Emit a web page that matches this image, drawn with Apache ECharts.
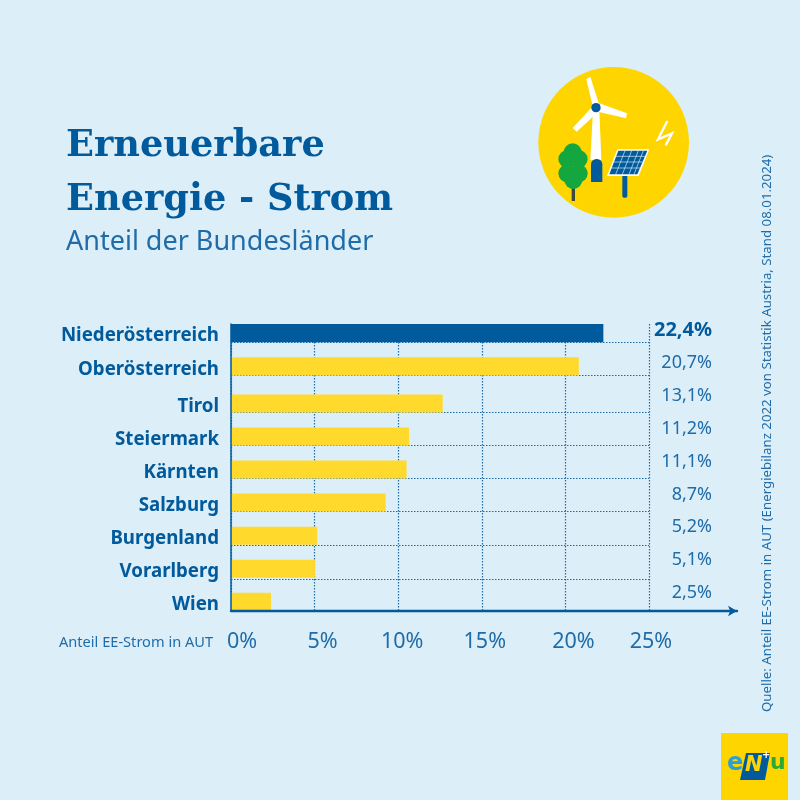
<!DOCTYPE html>
<html>
<head>
<meta charset="utf-8">
<script src="https://cdn.jsdelivr.net/npm/echarts@6/dist/echarts.min.js"></script>
<style>
html,body{margin:0;padding:0;background:#dceef8;}
#main{width:800px;height:800px;}
</style>
</head>
<body>
<div id="main"></div>
<script>
// values as drawn in the picture (bar lengths do not always agree with the printed labels)
var topStates = ['Niederösterreich', 'Oberösterreich'];
var topBars = [22.27, 20.8];
var otherStates = ['Tirol', 'Steiermark', 'Kärnten', 'Salzburg', 'Burgenland', 'Vorarlberg', 'Wien'];
var otherBars = [12.66, 10.65, 10.5, 9.25, 5.15, 5.02, 2.39];
var valueLabels = ['22,4%', '20,7%', '13,1%', '11,2%', '11,1%', '8,7%', '5,2%', '5,1%', '2,5%'];
var xTicks = [0, 5, 10, 15, 20, 25];

var BLUE = '#005a9c', MID = '#1f6ca8', YELLOW = '#ffd92b', SUN = '#ffd500', GREEN = '#14a63f';
var FONT = '"Noto Sans"';

// x labels sit a bit right of their ticks in the original
var xShift = {0: 11, 5: 8, 10: 4, 15: 3, 20: 8, 25: 2};
var xRich = {};
xTicks.forEach(function (t) {
    xRich['t' + t] = {fontFamily: FONT, fontSize: 21.5, color: MID, padding: [0, 0, 0, xShift[t] * 2]};
});

function hiddenX(idx) {
    return {gridIndex: idx, type: 'value', min: 0, max: 25, show: false};
}
function stateAxis(idx, names) {
    return {
        gridIndex: idx, type: 'category', inverse: true, data: names,
        axisLine: {show: false}, axisTick: {show: false},
        axisLabel: {
            margin: 12,
            formatter: function (v) { return '{n|' + v + '}'; },
            rich: {n: {padding: [6, 0, 0, 0], fontFamily: FONT, fontWeight: 'bold', fontSize: 18.7, color: BLUE}}
        }
    };
}
function leaf(cx, cy) {
    return {type: 'circle', shape: {cx: cx, cy: cy, r: 27}, style: {fill: GREEN}};
}
function panelLine(x1, y1, x2, y2) {
    return {type: 'line', shape: {x1: x1, y1: y1, x2: x2, y2: y2}, style: {stroke: '#dceef8', lineWidth: 2}};
}

var dotted = {color: MID, width: 1.2, type: [1.5, 1.5]};

var option = {
    backgroundColor: '#dceef8',
    animation: false,
    title: {
        left: 61, top: 114, itemGap: 2,
        text: 'Erneuerbare\nEnergie - Strom',
        textStyle: {fontFamily: '"DejaVu Serif"', fontWeight: 'bold', fontSize: 36.7, lineHeight: 54, color: BLUE},
        subtext: 'Anteil der Bundesländer',
        subtextStyle: {fontFamily: FONT, fontSize: 27, color: MID}
    },
    grid: [
        {left: 231, top: 324, width: 418, height: 287},     // gridlines
        {left: 231, top: 316.5, width: 418, height: 66.6},  // first two rows
        {left: 231, top: 387, width: 418, height: 231.2},   // remaining rows
        {left: 231, top: 324, width: 506, height: 287},     // axis lines with arrow
        {left: 716, top: 313.5, width: 10, height: 296}     // printed values
    ],
    xAxis: [
        {
            gridIndex: 0, type: 'value', min: 0, max: 25, interval: 5,
            axisLine: {show: false}, axisTick: {show: false},
            splitLine: {show: true, lineStyle: dotted},
            axisLabel: {
                margin: 20, showMinLabel: true, showMaxLabel: true, rich: xRich,
                formatter: function (v) { return '{t' + v + '|' + v + '%}'; }
            }
        },
        hiddenX(1),
        hiddenX(2),
        {
            gridIndex: 3, type: 'value', min: 0, max: 1, z: 6,
            axisLine: {show: true, symbol: ['none', 'arrow'], symbolSize: [8, 9], lineStyle: {color: BLUE, width: 2.4}},
            axisTick: {show: false}, axisLabel: {show: false}, splitLine: {show: false}
        },
        {gridIndex: 4, type: 'value', show: false}
    ],
    yAxis: [
        {
            gridIndex: 0, type: 'value', inverse: true, min: 0, max: 287,
            axisLine: {show: false}, axisLabel: {show: false},
            axisTick: {show: false, customValues: [18.3, 51.7, 88.7, 121.7, 154.3, 187.7, 221, 255]},
            splitLine: {show: true, lineStyle: dotted}
        },
        stateAxis(1, topStates),
        stateAxis(2, otherStates),
        {
            gridIndex: 3, type: 'value', min: 0, max: 1, z: 6,
            axisLine: {show: true, lineStyle: {color: BLUE, width: 1.5}},
            axisTick: {show: false}, axisLabel: {show: false}, splitLine: {show: false}
        },
        {
            gridIndex: 4, type: 'category', inverse: true, data: valueLabels,
            axisLine: {show: false}, axisTick: {show: false},
            axisLabel: {
                margin: 4,
                formatter: function (v, i) { return (i === 0 ? '{b|' : '{r|') + v + '}'; },
                rich: {
                    b: {fontFamily: FONT, fontWeight: 'bold', fontSize: 20, color: BLUE},
                    r: {fontFamily: FONT, fontSize: 18, color: MID}
                }
            }
        }
    ],
    series: [
        {
            type: 'bar', xAxisIndex: 1, yAxisIndex: 1, barWidth: 18.3, data: topBars,
            itemStyle: {color: function (p) { return p.dataIndex === 0 ? BLUE : YELLOW; }}
        },
        {type: 'bar', xAxisIndex: 2, yAxisIndex: 2, barWidth: 18, data: otherBars, itemStyle: {color: YELLOW}}
    ],
    graphic: [
        {type: 'text', x: 59, y: 635, style: {text: 'Anteil EE-Strom in AUT', fontFamily: FONT, fontSize: 14.6, fill: MID}},
        {
            type: 'text', x: 761, y: 712, rotation: Math.PI / 2,
            style: {text: 'Quelle: Anteil EE-Strom in AUT (Energiebilanz 2022 von Statistik Austria, Stand 08.01.2024)',
                fontFamily: FONT, fontSize: 13.25, fill: MID, align: 'left', verticalAlign: 'top'}
        },
        // icon, coordinates in the 3x crop space
        {
            type: 'group', x: 530, y: 60, scaleX: 1 / 3, scaleY: 1 / 3,
            children: [
                {type: 'circle', shape: {cx: 251, cy: 247, r: 226}, style: {fill: SUN}},
                {type: 'polygon', shape: {points: [[189, 150], [208, 150], [214, 300], [181, 300]]}, style: {fill: '#fff'}},
                {type: 'polygon', shape: {points: [[169, 58], [181, 50], [208, 135], [188, 138]]}, style: {fill: '#fff'}},
                {type: 'polygon', shape: {points: [[208, 130], [291, 160], [288, 175], [204, 155]]}, style: {fill: '#fff'}},
                {type: 'polygon', shape: {points: [[184, 143], [200, 160], [140, 215], [128, 204]]}, style: {fill: '#fff'}},
                {type: 'circle', shape: {cx: 198, cy: 143, r: 14}, style: {fill: BLUE}},
                {type: 'rect', shape: {x: 183, y: 297, width: 34, height: 69, r: [16, 16, 0, 0]}, style: {fill: BLUE}},
                {type: 'rect', shape: {x: 125, y: 380, width: 10, height: 43}, style: {fill: '#3f4a3c'}},
                leaf(128, 277), leaf(112, 297), leaf(146, 297), leaf(112, 340), leaf(146, 340), leaf(130, 360),
                {type: 'rect', shape: {x: 277, y: 345, width: 15, height: 68, r: 5}, style: {fill: BLUE}},
                {type: 'polygon', shape: {points: [[262, 268], [358, 268], [326, 348], [231, 348]]}, style: {fill: '#fff'}},
                {type: 'polygon', shape: {points: [[265, 272], [352, 272], [322, 343], [238, 343]]}, style: {fill: BLUE}},
                panelLine(256, 289, 345, 289), panelLine(247, 306, 338, 306), panelLine(240, 324, 330, 324),
                panelLine(285, 272, 257, 343), panelLine(305, 272, 277, 343), panelLine(325, 272, 297, 343), panelLine(340, 272, 312, 343),
                {type: 'polyline', shape: {points: [[412, 183], [384, 238], [426, 220], [407, 256]]},
                    style: {fill: 'none', stroke: '#fff', lineWidth: 7}},
                // logo, same crop scale
                {type: 'rect', shape: {x: 573, y: 2019, width: 201, height: 201}, style: {fill: SUN}}
            ]
        },
        {type: 'polygon', shape: {points: [[746, 753], [770, 753], [765, 780], [740, 780]]}, style: {fill: BLUE}},
        {type: 'text', x: 727, y: 752, style: {text: 'e', fontFamily: '"DejaVu Sans"', fontWeight: 'bold', fontSize: 24, fill: '#2a9fd8'}},
        {type: 'text', x: 745, y: 755, style: {text: 'N', fontFamily: '"DejaVu Sans"', fontWeight: 'bold', fontStyle: 'italic', fontSize: 21, fill: SUN}},
        {type: 'text', x: 762, y: 750, style: {text: '+', fontFamily: '"DejaVu Sans"', fontWeight: 'bold', fontSize: 10, fill: '#fff'}},
        {type: 'text', x: 770, y: 752, style: {text: 'u', fontFamily: '"DejaVu Sans"', fontWeight: 'bold', fontSize: 22, fill: '#2ea836'}}
    ]
};

var myChart = echarts.init(document.getElementById('main'));
myChart.setOption(option);
</script>
</body>
</html>
